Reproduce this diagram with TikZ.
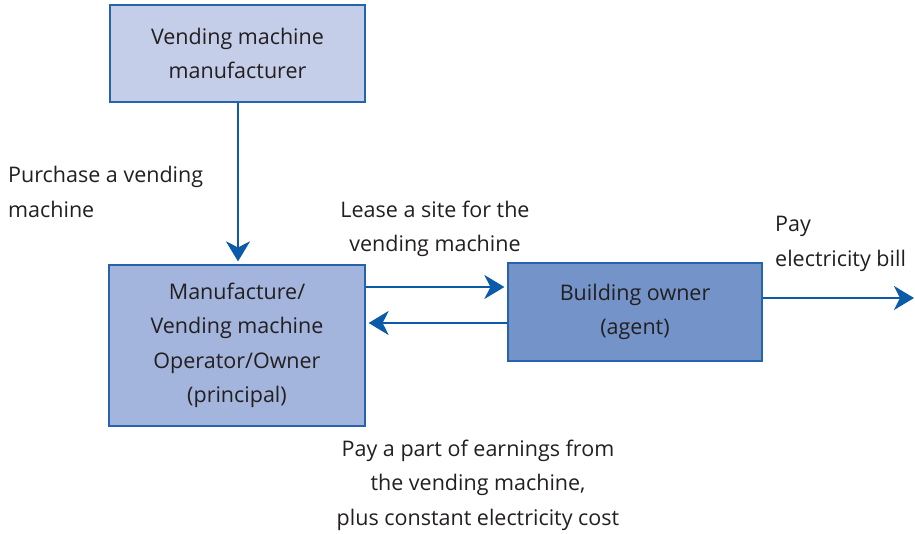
\documentclass[tikz,border=0pt]{standalone}
\usepackage{fontspec}
\setmainfont{Open Sans}
\usetikzlibrary{arrows.meta}
\definecolor{txt}{HTML}{231F20}
\definecolor{edge}{HTML}{2563AE}
\definecolor{arr}{HTML}{0B5BA8}
\definecolor{fillA}{HTML}{C5CEE9}
\definecolor{fillB}{HTML}{A3B5DD}
\definecolor{fillC}{HTML}{7393C9}
\tikzset{
  box/.style={draw=edge, line width=1.2pt, inner sep=0pt, align=center, text=txt,
    font=\fontsize{21.5}{34.5}\selectfont},
  lbl/.style={text=txt, font=\fontsize{21.5}{34.5}\selectfont, inner sep=0pt},
  conn/.style={draw=arr, line width=2pt, shorten >=3pt, -{Stealth[length=20pt,width=24pt,inset=6pt]}}
}
\begin{document}
\begin{tikzpicture}[x=1pt,y=-1pt]
\useasboundingbox (0,0) rectangle (915,534);
\node[box, fill=fillA, minimum width=255pt, minimum height=97pt] (mfr) at (237.5,53.5) {Vending machine\\manufacturer};
\node[box, fill=fillB, minimum width=256pt, minimum height=161pt] (op) at (237,345.5) {Manufacture/\\Vending machine\\Operator/Owner\\(principal)};
\node[box, fill=fillC, minimum width=254pt, minimum height=98pt] (bo) at (635,312) {Building owner\\(agent)};
\coordinate (out) at (914,298);
\draw[conn] (mfr.south -| 238,0) -- (op.north -| 238,0);
\draw[conn] (op.east |- 0,287) -- (bo.west |- 0,287);
\draw[conn] (bo.west |- 0,323) -- (op.east |- 0,323);
\draw[conn, shorten >=0pt] (bo.east |- out) -- (out);
\node[lbl, align=left, anchor=west] (l1) at (8,192) {Purchase a vending\\machine};
\node[lbl, align=center] (l2) at (435,229) {Lease a site for the\\vending machine};
\node[lbl, align=left, anchor=west] (l3) at (775,244) {Pay\\electricity bill};
\node[lbl, align=center] (l4) at (478,485) {Pay a part of earnings from\\the vending machine,\\plus constant electricity cost};
\end{tikzpicture}
\end{document}
